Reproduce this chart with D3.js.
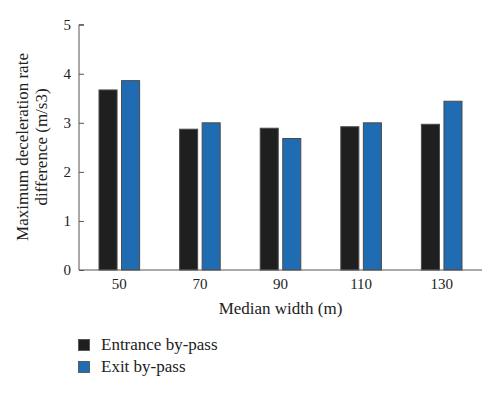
<!DOCTYPE html>
<html>
<head>
<meta charset="utf-8">
<script src="https://cdn.jsdelivr.net/npm/d3@7"></script>
<style>
  html, body { margin: 0; padding: 0; background: #fff; }
  svg { display: block; }
  text { font-family: "Liberation Serif", "DejaVu Serif", serif; fill: #222; }
</style>
</head>
<body>
<svg id="chart" width="500" height="393"></svg>
<script>
const categories = ["50", "70", "90", "110", "130"];
const seriesNames = ["Entrance by-pass", "Exit by-pass"];
const entranceValues = [3.67, 2.87, 2.89, 2.92, 2.97];
const exitValues = [3.86, 3.00, 2.68, 3.00, 3.44];
const yTicks = [0, 1, 2, 3, 4, 5];
const xTitle = "Median width (m)";
const yTitleLines = ["Maximum deceleration rate", "difference (m/s3)"];
const colors = ["#1f1f1f", "#1f6cb3"];

(function () {
const svg = d3.select("#chart");
const pLeft = 79, pRight = 482, pTop = 24.7, pBottom = 270;

const x = d3.scaleBand().domain(categories).range([pLeft, pRight]).padding(0);
const xInner = d3.scaleBand().domain(seriesNames)
  .range([20, x.bandwidth() - 20]).paddingInner(0.2).paddingOuter(0);
const y = d3.scaleLinear().domain([0, 5]).range([pBottom, pTop]);

const data = categories.map((c, i) => ({
  cat: c,
  vals: [entranceValues[i], exitValues[i]]
}));

// bars
const g = svg.append("g");
data.forEach(d => {
  d.vals.forEach((v, j) => {
    g.append("rect")
      .attr("x", x(d.cat) + xInner(seriesNames[j]))
      .attr("y", y(v))
      .attr("width", xInner.bandwidth())
      .attr("height", y(0) - y(v))
      .attr("fill", colors[j])
      .attr("stroke", "#4a4a4a")
      .attr("stroke-width", 1);
  });
});

// y axis
const yAxis = svg.append("g")
  .attr("transform", `translate(${pLeft},0)`)
  .call(d3.axisRight(y).tickValues(yTicks).tickSize(5).tickFormat(d3.format("d")));
yAxis.select(".domain").attr("stroke", "#555").attr("d", `M5,${pTop}H0V${pBottom}`);
yAxis.selectAll(".tick line").attr("stroke", "#555");
yAxis.selectAll(".tick text")
  .attr("x", -8).attr("text-anchor", "end")
  .style("font-family", "Liberation Serif, serif").style("font-size", "15px").attr("fill", "#222");

// x axis
const xAxis = svg.append("g")
  .attr("transform", `translate(0,${pBottom})`)
  .call(d3.axisBottom(x).tickSize(0).tickPadding(8));
xAxis.select(".domain").attr("stroke", "#555").attr("d", `M${pLeft},0H${pRight}`);
xAxis.selectAll(".tick text")
  .style("font-family", "Liberation Serif, serif").style("font-size", "15px").attr("fill", "#222");

// axis titles
svg.append("text")
  .attr("x", (pLeft + pRight) / 2).attr("y", 314)
  .attr("text-anchor", "middle")
  .style("font-size", "17px")
  .text(xTitle);

const yt = svg.append("text")
  .attr("transform", "translate(27.5,147) rotate(-90)")
  .attr("text-anchor", "middle")
  .style("font-size", "17px");
yTitleLines.forEach((t, i) => {
  yt.append("tspan").attr("x", 0).attr("y", i * 19.5).text(t);
});

// legend
const legend = svg.append("g");
seriesNames.forEach((s, i) => {
  const ly = 339.5 + i * 22;
  legend.append("rect")
    .attr("x", 78.5).attr("y", ly).attr("width", 11).attr("height", 11)
    .attr("fill", colors[i]).attr("stroke", "#4a4a4a").attr("stroke-width", 0.8);
  legend.append("text")
    .attr("x", 101).attr("y", ly + 10.5)
    .style("font-size", "17px")
    .text(s);
});
})();
</script>
</body>
</html>
